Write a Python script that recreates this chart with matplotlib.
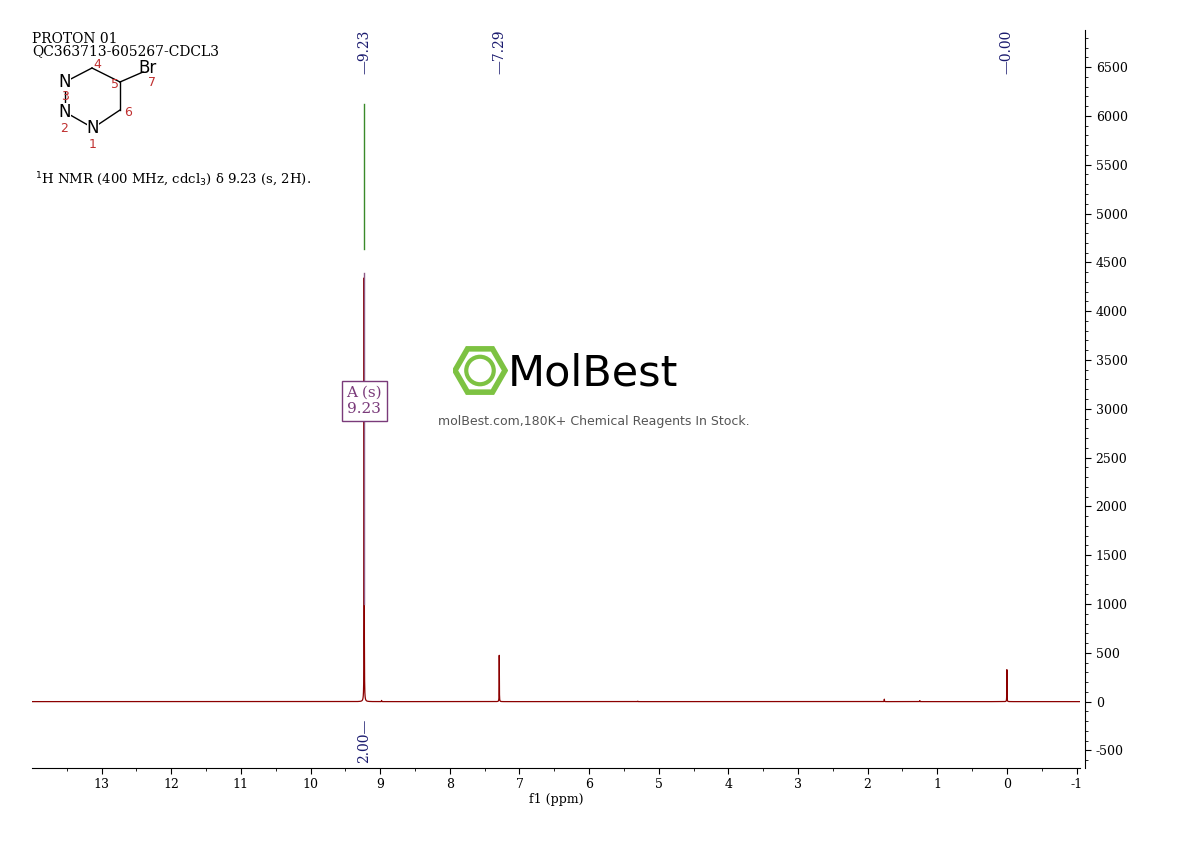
import numpy as np
import matplotlib
matplotlib.use("Agg")
import matplotlib.pyplot as plt
from matplotlib.patches import RegularPolygon, Circle
from matplotlib.transforms import blended_transform_factory as btf

peak_ppm = [9.23, 7.29, 0.00, 1.76, 1.25, 8.98, 5.30]
peak_h = [4390, 480, 330, 25, 10, 12, 5]
label_ppm = [9.23, 7.29, 0.00]
label_txt = ["9.23", "7.29", "0.00"]
integ_val = "2.00"
integ_lo, integ_hi = 4640, 6120
xticks = list(range(13, -2, -1))
yticks = list(range(-500, 7000, 500))

fig = plt.figure(figsize=(11.9, 8.41), dpi=100)
ax = fig.add_axes([32/1190, 1-768/841, (1080-32)/1190, (768-30)/841])
x = np.linspace(14, -1.05, 40000)
w = 0.0015
y = np.zeros_like(x)
for p, h in zip(peak_ppm, peak_h):
    y += h * w**2 / ((x - p)**2 + w**2)
ax.plot(x, y, color="#8b0000", lw=0.9)
ax.plot([9.23, 9.23], [1000, 4390], color="#8e5a86", lw=1)
ax.plot([9.23, 9.23], [integ_lo, integ_hi], color="#3a8a2a", lw=1)
ax.set_xlim(14, -1.05)
ax.set_ylim(-680, 6880)
for s in ["top", "left"]:
    ax.spines[s].set_visible(False)
ax.spines["right"].set_position(("axes", 1.005))
ax.yaxis.tick_right()
ax.set_yticks(yticks)
ax.set_yticklabels([str(v) for v in yticks], fontsize=9, family="serif")
ax.set_yticks(np.arange(-600, 6900, 100), minor=True)
ax.set_xticks(xticks)
ax.set_xticklabels([str(v) for v in xticks], fontsize=9, family="serif")
ax.set_xticks(np.arange(13.5, -1.0, -0.5), minor=True)
ax.tick_params(direction="out", length=4)
ax.set_xlabel("f1 (ppm)", fontsize=9, family="serif", labelpad=1)

tr = btf(ax.transData, ax.transAxes)
for p, t in zip(label_ppm, label_txt):
    ax.text(p, 1.0, "—" + t, rotation=90, ha="center", va="top", transform=tr,
            fontsize=10, family="serif", color="#1a1a6e")
ax.text(9.23, -400, integ_val + "—", rotation=90, ha="center", va="center",
        fontsize=10, family="serif", color="#1a1a6e")
ax.text(9.23, 3080, "A (s)\n9.23", ha="center", va="center", fontsize=11,
        family="serif", color="#7a3a7a",
        bbox=dict(boxstyle="square,pad=0.3", fc="white", ec="#7a3a7a", lw=1))

fig.text(32/1190, 1-45/841, "PROTON 01\nQC363713-605267-CDCL3", fontsize=10,
         family="serif", va="center", linespacing=0.8)
fig.text(35/1190, 1-180/841, r"$^{1}$H NMR (400 MHz, cdcl$_3$) δ 9.23 (s, 2H).",
         fontsize=9.5, family="serif", va="center")
# structure
fa = fig.add_axes([40/1190, 1-150/841, 130/1190, 90/841])
fa.set_xlim(0, 130); fa.set_ylim(90, 0); fa.axis("off")
pts = {"N3": (25, 22), "C4": (52, 8), "C5": (80, 22), "C6": (80, 50), "N1": (53, 68), "N2": (25, 52)}
for a, b in [("N3", "C4"), ("C4", "C5"), ("C5", "C6"), ("C6", "N1"), ("N1", "N2"), ("N2", "N3")]:
    fa.plot(*zip(pts[a], pts[b]), color="k", lw=1)
fa.plot([80, 103], [22, 12], color="k", lw=1)
for k, lab in [("N3", "N"), ("N2", "N"), ("N1", "N")]:
    fa.text(*pts[k], lab, ha="center", va="center", fontsize=12,
            bbox=dict(fc="white", ec="none", pad=0))
fa.text(108, 8, "Br", ha="center", va="center", fontsize=12)
for txt, (px, py) in [("4", (57, 4)), ("5", (75, 24)), ("7", (112, 23)), ("6", (88, 53)),
                      ("3", (25, 37)), ("2", (24, 69)), ("1", (53, 84))]:
    fa.text(px, py, txt, color="#c03030", fontsize=9, ha="center", va="center")

# watermark
fl = fig.add_axes([450/1190, 1-398/841, 60/1190, 55/841])
fl.set_xlim(-1.1, 1.1); fl.set_ylim(-1.1, 1.1); fl.set_aspect("equal"); fl.axis("off")
fl.add_patch(RegularPolygon((0, 0), 6, radius=1.0, orientation=np.pi/6, fc="none", ec="#7dc242", lw=4))
fl.add_patch(Circle((0, 0), 0.55, fc="none", ec="#7dc242", lw=3))
fig.text(508/1190, 1-373/841, "MolBest", fontsize=31, va="center", family="DejaVu Sans")
fig.text(594/1190, 1-421/841, "molBest.com,180K+ Chemical Reagents In Stock.",
         fontsize=9, color="#555555", ha="center", va="center")
fig.savefig("out.png", dpi=100)
